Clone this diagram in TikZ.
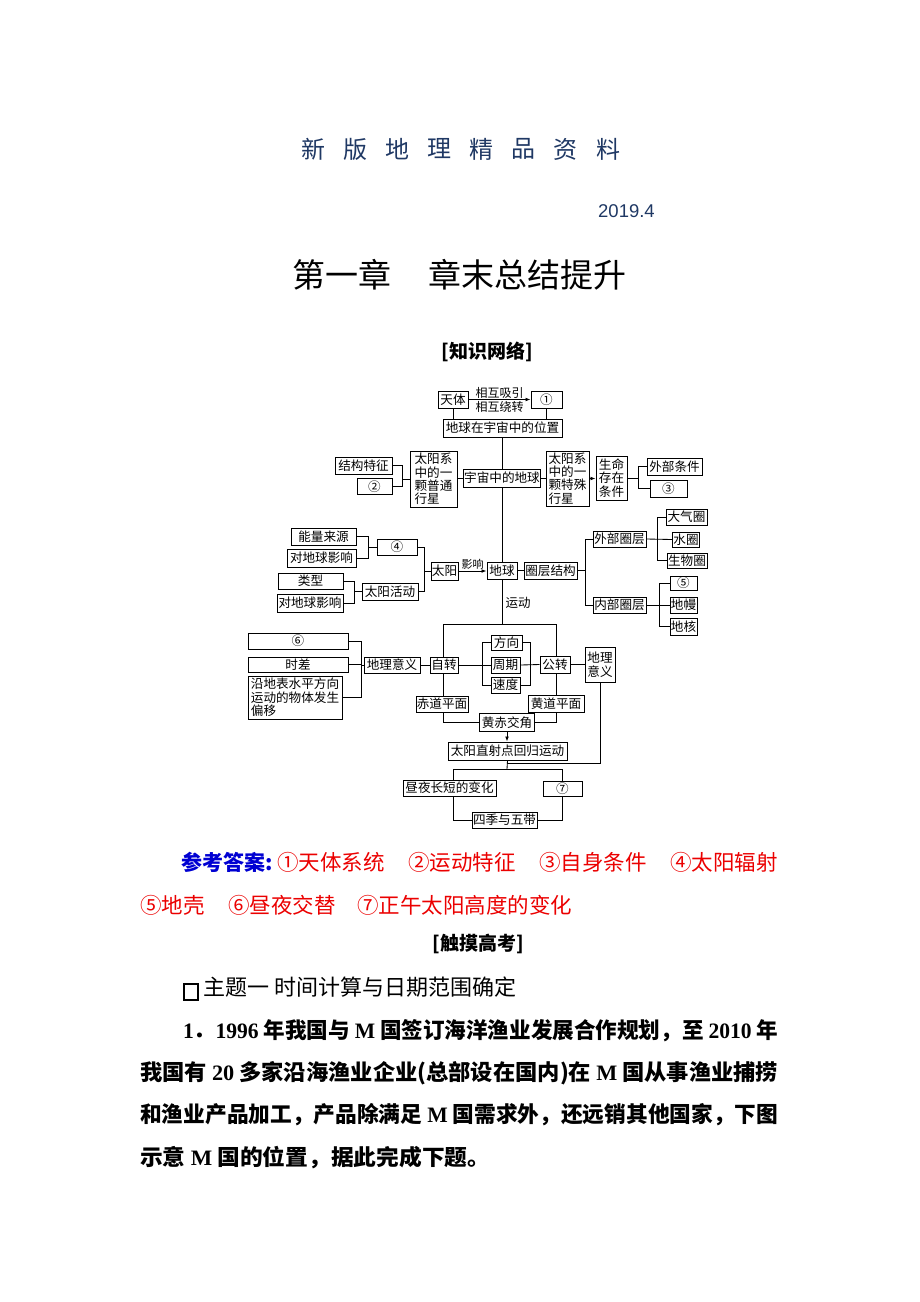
\documentclass[tikz,border=0pt]{standalone}
\usepackage{fontspec}
\usepackage{graphicx}
\setmainfont{Liberation Serif}
\newfontfamily\cjk{Noto Sans CJK SC}
\newfontfamily\arialf{Liberation Sans}
\newfontfamily\tmr{Liberation Serif}
\usetikzlibrary{arrows.meta,calc}
\definecolor{hdrblue}{RGB}{31,56,100}
\definecolor{ansblue}{RGB}{0,0,210}
\definecolor{ansred}{RGB}{235,0,0}
\pgfdeclarelayer{bg}
\pgfsetlayers{bg,main}
\begin{document}
\begin{tikzpicture}[x=1pt,y=-1pt,
  bx/.style={draw, line width=1pt, fill=white, inner sep=0.8pt, font=\cjk\fontsize{12.6}{13.4}\selectfont, align=center},
  ln/.style={line width=0.85pt},
  ar/.style={line width=0.85pt, -{Latex[length=5pt,width=3.8pt]}},
  lbl/.style={inner sep=0.5pt, font=\cjk\fontsize{12}{12}\selectfont},
  hdr/.style={font=\cjk\fontsize{24}{24}\selectfont, text=hdrblue, inner sep=0pt},
  ttl/.style={font=\cjk\fontsize{33}{33}\selectfont, anchor=west, inner sep=0pt},
  sect/.style={font=\cjk\bfseries\fontsize{19}{19}\selectfont, inner sep=0pt},
  ansr/.style={font=\cjk\fontsize{21.5}{21.5}\selectfont, text=ansred, anchor=west, inner sep=0pt},
  body/.style={font=\cjk\bfseries\fontsize{22}{22}\selectfont, anchor=west, inner sep=0pt}
]
\useasboundingbox (0,0) rectangle (920,1302);

% ---------- header ----------
\node[hdr] (h1) at (313,149) {新};
\node[hdr] (h2) at (355.1,149) {版};
\node[hdr] (h3) at (397.3,149) {地};
\node[hdr] (h4) at (439.4,149) {理};
\node[hdr] (h5) at (481.6,149) {精};
\node[hdr] (h6) at (523.7,149) {品};
\node[hdr] (h7) at (565.9,149) {资};
\node[hdr] (h8) at (608,149) {料};
\node[font=\arialf\fontsize{18.5}{18.5}\selectfont, text=hdrblue, anchor=west, inner sep=0pt] (date) at (598,211) {2019.4};
\node[ttl] (t1) at (292,275) {第一章};
\node[ttl] (t2) at (428,275) {章末总结提升};
\node[sect] (s1) at (487,352) {[知识网络]};

% ---------- top part ----------
\node[bx, minimum width=30, minimum height=17] (tianti) at (453,399.5) {天体};
\node[bx, minimum width=31, minimum height=17] (c1) at (546.5,399.5) {①};
\node[bx, minimum width=119, minimum height=18] (weizhi) at (502.5,428) {地球在宇宙中的位置};
\node[bx, minimum width=77, minimum height=18] (yuzhou) at (502,478) {宇宙中的地球};
\node[bx, minimum width=47, minimum height=56, align=left] (putong) at (433.5,479) {太阳系\\中的一\\颗普通\\行星};
\node[bx, minimum width=57, minimum height=17] (jiegou) at (363.5,465.5) {结构特征};
\node[bx, minimum width=35, minimum height=16] (c2) at (374.5,486.5) {②};
\node[bx, minimum width=43, minimum height=55, align=left] (teshu) at (567.5,478.5) {太阳系\\中的一\\颗特殊\\行星};
\node[bx, minimum width=31, minimum height=44] (shengming) at (611.5,478) {生命\\存在\\条件};
\node[bx, minimum width=55, minimum height=17] (waibutj) at (674.5,466.5) {外部条件};
\node[bx, minimum width=37, minimum height=17] (c3) at (668.5,488.5) {③};

% ---------- middle part ----------
\node[bx, minimum width=30, minimum height=17] (diqiu) at (502,570.5) {地球};
\node[bx, minimum width=27, minimum height=18] (taiyang) at (444.5,571) {太阳};
\node[bx, minimum width=40, minimum height=16] (c4) at (397,547) {④};
\node[bx, minimum width=65, minimum height=17] (nengliang) at (323.5,536.5) {能量来源};
\node[bx, minimum width=69, minimum height=18] (dui1) at (321.5,558) {对地球影响};
\node[bx, minimum width=65, minimum height=16] (leixing) at (310.5,581) {类型};
\node[bx, minimum width=66, minimum height=18] (dui2) at (310,603) {对地球影响};
\node[bx, minimum width=56, minimum height=17] (huodong) at (390,591.5) {太阳活动};
\node[bx, minimum width=53, minimum height=17] (quanceng) at (550.5,570.5) {圈层结构};
\node[bx, minimum width=53, minimum height=16] (waibu) at (619.5,539) {外部圈层};
\node[bx, minimum width=53, minimum height=16] (neibu) at (619.5,605) {内部圈层};
\node[bx, minimum width=41, minimum height=16] (daqi) at (686.5,517) {大气圈};
\node[bx, minimum width=27, minimum height=15] (shui) at (686,539.5) {水圈};
\node[bx, minimum width=40, minimum height=15] (shengwu) at (687,560.5) {生物圈};
\node[bx, minimum width=27, minimum height=14] (c5) at (683.5,583) {⑤};
\node[bx, minimum width=27, minimum height=16] (diman) at (683.5,605) {地幔};
\node[bx, minimum width=27, minimum height=17] (dihe) at (683.5,626.5) {地核};

% ---------- lower part ----------
\node[lbl, font=\cjk\fontsize{12.5}{12.5}\selectfont] (yundong) at (518,603) {运动};
\node[bx, minimum width=28, minimum height=16] (zizhuan) at (444,665) {自转};
\node[bx, minimum width=30, minimum height=17] (gongzhuan) at (555,664.5) {公转};
\node[bx, minimum width=31, minimum height=15] (fangxiang) at (506.5,642.5) {方向};
\node[bx, minimum width=29, minimum height=16] (zhouqi) at (505.5,665) {周期};
\node[bx, minimum width=29, minimum height=16] (sudu) at (505.5,685) {速度};
\node[bx, minimum width=52, minimum height=16] (chidao) at (442,704) {赤道平面};
\node[bx, minimum width=56, minimum height=17] (huangdao) at (556,703.5) {黄道平面};
\node[bx, minimum width=55, minimum height=18] (huangchi) at (507,722.5) {黄赤交角};
\node[bx, minimum width=119, minimum height=18] (zhishe) at (507.5,751) {太阳直射点回归运动};
\node[bx, minimum width=30, minimum height=35] (yiyiR) at (600,664.5) {地理\\意义};
\node[bx, minimum width=93, minimum height=16] (zhouye) at (449.5,788) {昼夜长短的变化};
\node[bx, minimum width=39, minimum height=15] (c7) at (562.5,788.5) {⑦};
\node[bx, minimum width=65, minimum height=16] (siji) at (504.5,820) {四季与五带};
\node[bx, minimum width=56, minimum height=16] (yiyiL) at (392,665) {地理意义};
\node[bx, minimum width=100, minimum height=16] (c6) at (298,641) {⑥};
\node[bx, minimum width=100, minimum height=15] (shicha) at (298,664.5) {时差};
\node[bx, minimum width=94, minimum height=43, align=left] (yandi) at (295,697.5) {沿地表水平方向\\运动的物体发生\\偏移};

% ---------- connectors ----------
\coordinate (b1) at (402,0);
\coordinate (b2) at (638,0);
\coordinate (b3) at (368,0);
\coordinate (b4) at (354,0);
\coordinate (b5) at (424,0);
\coordinate (b6) at (585,0);
\coordinate (b7) at (657,0);
\coordinate (b8) at (659,0);
\coordinate (b9) at (482,0);
\coordinate (b10) at (530,0);
\coordinate (b11) at (361,0);
\coordinate (rl) at (443,624);
\coordinate (rr) at (556,624);
\coordinate (j1) at (507,763);
\coordinate (j2) at (507,769);
\coordinate (hl) at (453,769);
\coordinate (hr) at (562,769);

\begin{pgfonlayer}{bg}
\draw[ar] (tianti.east) -- (c1.west);
\node[lbl, anchor=south] (xy) at ($(tianti.east)!0.5!(c1.west)+(0,0)$) {相互吸引};
\node[lbl, anchor=north] (xr) at ($(tianti.east)!0.5!(c1.west)+(0,1)$) {相互绕转};
\draw[ln] (tianti.south) -- (tianti.south |- weizhi.north);
\draw[ln] (c1.south) -- (c1.south |- weizhi.north);
\draw[ln] (weizhi.south -| yuzhou.north) -- (yuzhou.north);
\draw[ln] (yuzhou.south) -- (diqiu.north);
\draw[ln] (yuzhou.west) -- (yuzhou.west -| putong.east);
\draw[ln] (yuzhou.east) -- (yuzhou.east -| teshu.west);
% bracket b1
\draw[ln] (jiegou.east) -- (jiegou.east -| b1) -- (c2.east -| b1) -- (c2.east);
\draw[ln] (putong.west -| b1) -- (putong.west);
% arrow to shengming
\draw[ar] (teshu.east) -- (teshu.east -| shengming.west);
\draw[ln] (shengming.east) -- (shengming.east -| b2);
\draw[ln] (waibutj.west) -- (waibutj.west -| b2) -- (c3.west -| b2) -- (c3.west);
% sun side
\draw[ln] (nengliang.east) -- (nengliang.east -| b3) -- (dui1.east -| b3) -- (dui1.east);
\draw[ln] (c4.west -| b3) -- (c4.west);
\draw[ln] (leixing.east) -- (leixing.east -| b4) -- (dui2.east -| b4) -- (dui2.east);
\draw[ln] (huodong.west -| b4) -- (huodong.west);
\draw[ln] (c4.east) -- (c4.east -| b5) -- (huodong.east -| b5) -- (huodong.east);
\draw[ln] (taiyang.west -| b5) -- (taiyang.west);
\draw[ar] (taiyang.east) -- (taiyang.east -| diqiu.west);
\node[lbl, anchor=south, font=\cjk\fontsize{11}{11}\selectfont] (yx) at ($(taiyang.east)!0.5!(taiyang.east -| diqiu.west)+(0,-1)$) {影响};
% layers
\draw[ln] (diqiu.east) -- (diqiu.east -| quanceng.west);
\draw[ln] (quanceng.east) -- (quanceng.east -| b6);
\draw[ln] (waibu.west) -- (waibu.west -| b6) -- (neibu.west -| b6) -- (neibu.west);
\draw[ln] (waibu.east) -- (shui.west);
\draw[ln] (daqi.west) -- (daqi.west -| b7) -- (shengwu.west -| b7) -- (shengwu.west);
\draw[ln] (neibu.east) -- (diman.west);
\draw[ln] (c5.west) -- (c5.west -| b8) -- (dihe.west -| b8) -- (dihe.west);
% motion
\draw[ln] (diqiu.south) -- (diqiu.south |- rl);
\draw[ln] (rl) -- (rr);
\draw[ln] (rl) -- (rl |- huangchi.west) -- (huangchi.west);
\draw[ln] (rr) -- (rr |- huangchi.east) -- (huangchi.east);
\draw[ln] (zizhuan.east) -- (zhouqi.west);
\draw[ln] (fangxiang.west) -- (fangxiang.west -| b9) -- (sudu.west -| b9) -- (sudu.west);
\draw[ln] (zhouqi.east) -- (gongzhuan.west);
\draw[ln] (fangxiang.east) -- (fangxiang.east -| b10) -- (sudu.east -| b10) -- (sudu.east);
\draw[ar] (huangchi.south) -- (huangchi.south |- zhishe.north);
\draw[ln] (gongzhuan.east) -- (gongzhuan.east -| yiyiR.west);
\draw[ln] (yiyiR.south) |- (j1);
\draw[ln] (zhishe.south) -- (j2);
\draw[ln] (hl) -- (hr);
\draw[ln] (hl) |- (siji.west);
\draw[ln] (hr) |- (siji.east);
\draw[ln] (yiyiL.east) -- (yiyiL.east -| zizhuan.west);
\draw[ln] (c6.east) -- (c6.east -| b11) -- (yandi.east -| b11) -- (yandi.east);
\draw[ln] (shicha.east) -- (shicha.east -| b11);
\draw[ln] (yiyiL.west -| b11) -- (yiyiL.west);
\end{pgfonlayer}

% ---------- answers ----------
\node[font=\cjk\bfseries\fontsize{21}{21}\selectfont, text=ansblue, anchor=west, inner sep=0pt] (ans) at (181,862) {参考答案:};
\node[ansr] (a1) at (277,862) {①天体系统};
\node[ansr] (a2) at (408,862) {②运动特征};
\node[ansr] (a3) at (539,862) {③自身条件};
\node[ansr] (a4) at (670,862) {④太阳辐射};
\node[ansr] (a5) at (140,905) {⑤地壳};
\node[ansr] (a6) at (228,905) {⑥昼夜交替};
\node[ansr] (a7) at (357,905) {⑦正午太阳高度的变化};

\node[sect] (s2) at (478,944) {[触摸高考]};

% ---------- body ----------
\node[draw, line width=1.1pt, minimum width=14, minimum height=16, inner sep=0pt] (chk) at (191,992) {};
\node[font=\cjk\fontsize{22}{22}\selectfont, anchor=west, inner sep=0pt] (topic) at (203,987) {主题一 时间计算与日期范围确定};
\node[body] (l1) at (183,1031) {\resizebox{595pt}{\height}{{\tmr\bfseries 1}．{\tmr\bfseries 1996} 年我国与 {\tmr\bfseries M} 国签订海洋渔业发展合作规划，至 {\tmr\bfseries 2010} 年}};
\node[body] (l2) at (140,1073) {\resizebox{638pt}{\height}{我国有 {\tmr\bfseries 20} 多家沿海渔业企业(总部设在国内)在 {\tmr\bfseries M} 国从事渔业捕捞}};
\node[body] (l3) at (140,1115) {\resizebox{638pt}{\height}{和渔业产品加工，产品除满足 {\tmr\bfseries M} 国需求外，还远销其他国家，下图}};
\node[body] (l4) at (140,1158) {\resizebox{350pt}{\height}{示意 {\tmr\bfseries M} 国的位置，据此完成下题。}};
\end{tikzpicture}
\end{document}
